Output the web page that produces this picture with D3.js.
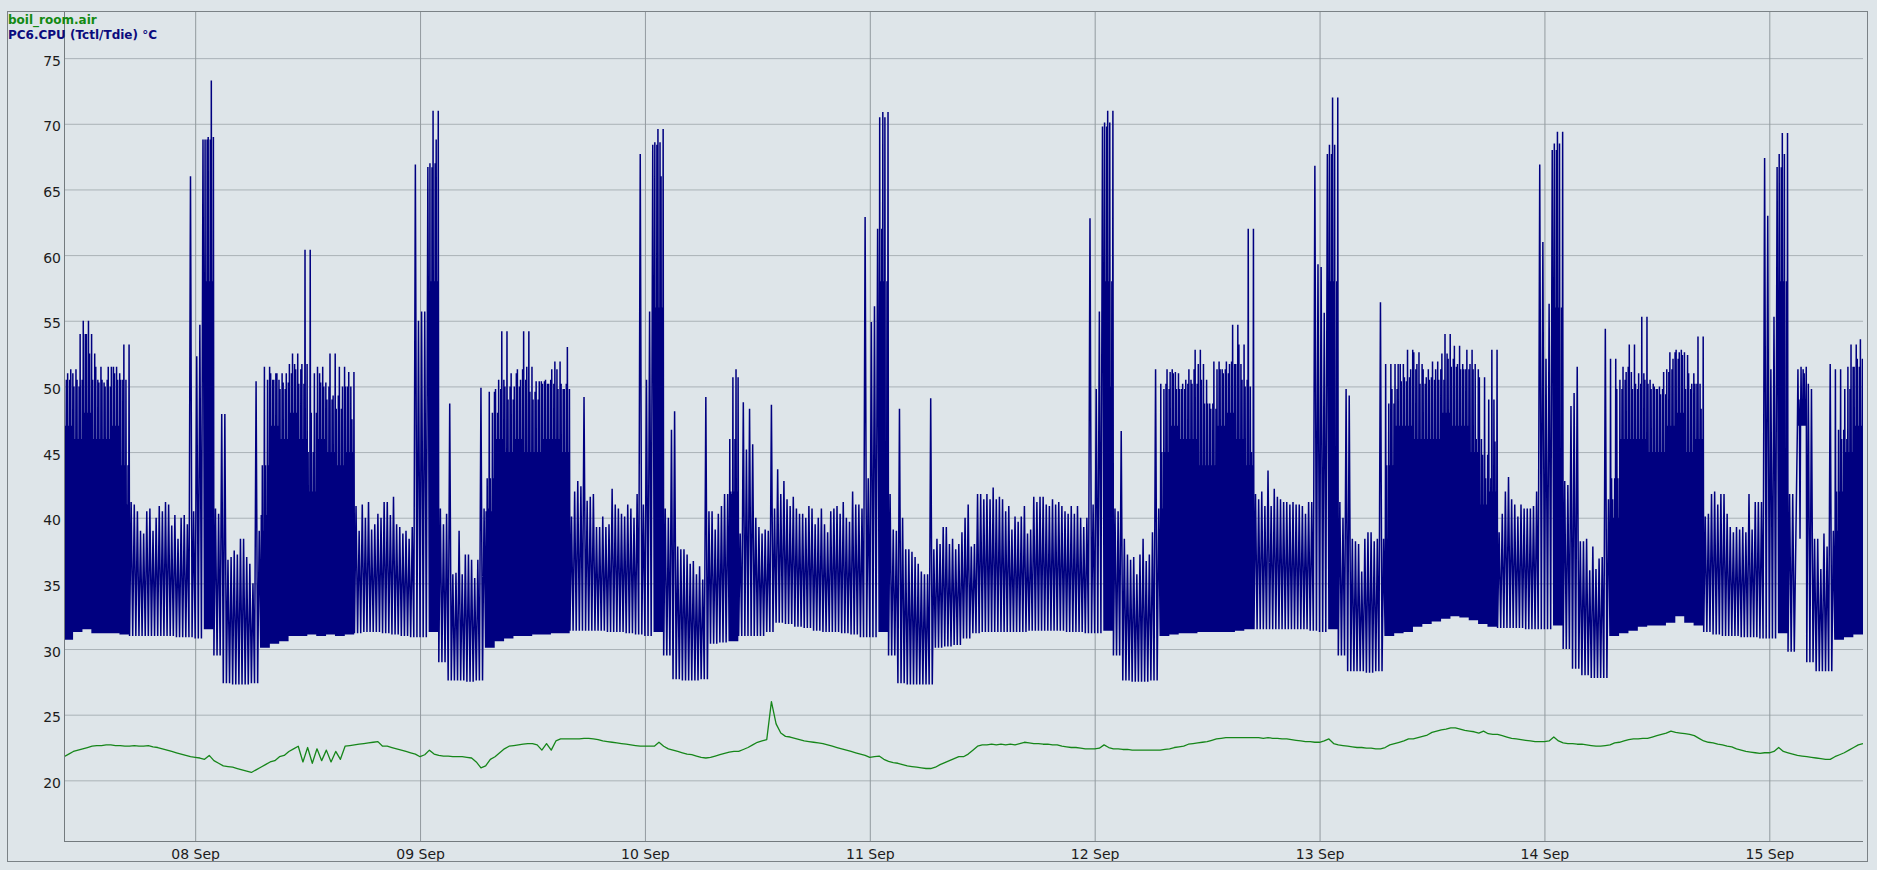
<!DOCTYPE html>
<html><head><meta charset="utf-8">
<script src="https://cdn.jsdelivr.net/npm/d3@7"></script>
<style>
html,body{margin:0;padding:0;background:#dee5e9;overflow:hidden;}
svg{display:block;font-family:"DejaVu Sans",Verdana,sans-serif;}
</style></head><body>
<svg id="chart" width="1877" height="870"></svg>
<script>
// ---- data ----
const _ = null;
const startTime = "2023-09-07 10:00";
const endTime = "2023-09-15 10:00";
const seriesNames = ["boil_room.air", "PC6.CPU (Tctl/Tdie) °C"];
const yTickValues = [20, 25, 30, 35, 40, 45, 50, 55, 60, 65, 70, 75];
const xTickLabels = ["08 Sep", "09 Sep", "10 Sep", "11 Sep", "12 Sep", "13 Sep", "14 Sep", "15 Sep"];

// CPU peak per 20-minute slot (72 per day, from 10:00)
const cpuHigh = [
50.5,51,51.3, 50,50.5,54, 55,54,52.5, 50.5,51.5,50.3, 50.5,50,51.5, 51.5,51,50.5, 50.5,53.2,41, 41.2,41,40.5, 39,38.8,40.5, 40.7,39,40, 40.9,40.5,41.2, 41,39.4,40.2, 38.4,40,40.2, 39.5,66,40.5, 52.3,54.7,68.8, 68.8,69,73.3, 40.7,40.3,47.9, 47.9,36.8,37, 37.5,37.2,38.4, 38.4,37,36.5, 35,50.4,39, 40.2,51.5,50.5, 51,50.5,51, 49.8,50.3,51,
51.7,52.5,51.3, 50.2,51.7,60.4, 45,48,51, 51.5,50.3,50, 49,52.5,49.3, 48.3,51.5,50, 50,51.1,47.5, 40.9,39,41, 40,41.2,39.1, 39.5,40.3,40, 41.2,41.2,40.2, 41.6,39.5,39.3, 38.8,39,38.4, 39.3,66.9,55, 55.7,55.7,66.7, 67,71,68.8, 40.7,39.5,40.3, 48.7,35.7,35.8, 39,35.7,37.2, 37.2,36.8,35.4, 36.8,49.9,40.7, 40.5,49.6,48, 49.8,50.5,54.2, 50,49,51,
50,51.3,50.5, 54.2,51.5,49.6, 49,50.4,50.4, 50.2,50.5,50.2, 51.3,51.9,49.8, 50.2,49.8,53, 40.1,42,42.8, 42.4,49.2,41.3, 41.6,41.8,39.3, 39.3,40.1,39.3, 39.5,42.2,41, 40.7,40.3,40.1, 41,40.7,40, 41.8,67.7,41, 50.5,55.7,68.4, 68.6,69.6,66, 40.7,40,46.7, 48.1,37.8,37.6, 37.6,37.2,36.5, 36.7,35.7,36.3, 35.3,49.2,40.5, 40.5,39.1,40.3, 40.9,41.8,41.8, 46,50.7,51.3,
38.8,48.8,45.2, 48.3,45.6,40, 39.3,38.8,39.1, 39,48.6,40.7, 43.7,41.8,42.8, 41.4,40.9,41.6, 40.7,40.3,40.3, 40,40.9,40.7, 39.5,40,40.7, 39.5,38.9,40.5, 40.7,40.9,40.3, 41.2,40,39.7, 42,41,41, 40.7,62.9,43, 54.9,56.1,62, 70.5,70.9,45, 41.8,39.1,39, 48.3,40,37.6, 37.6,37.4,37, 36.5,35.9,35.7, 35.7,49.1,37.6, 38.4,38,39.3, 39.3,38,38.4, 37.6,38,38.9,
40,41,37.8, 38,41.8,41.8, 41.4,41.8,41.4, 42.3,41.4,41.6, 41.4,40.5,40.9, 39.1,40.1,39.7, 40.1,40.9,38.8, 39.1,41.6,41.2, 41.6,41.6,41, 40.9,41.4,41, 41.2,40.9,40.5, 40.3,40.9,40.3, 40.9,40,39.3, 40,62.8,41, 49.8,55.7,69.8, 70.1,71,50, 40.7,40.5,46.6, 38.4,37.2,36.8, 37,35.7,37.2, 38.4,36.7,37.2, 38.9,51.3,40.7, 50.2,49.8,51.3, 51.1,51,49.8, 49.8,50.2,50.5,
51.3,50.2,52.8, 51.7,50.5,48.7, 48.7,48.3,51.9, 51.3,51.3,51, 51.9,51.7,54.7, 51.7,53.2,50.5, 50,62,45, 41.8,41.4,42, 40.9,43.6,40.9, 42.2,41.6,41.4, 41.2,41.2,41, 41.2,41,41, 40.9,40.3,41.2, 41.2,66.8,59.3, 59.1,55.6,67.7, 68.4,72,43, 41.2,40,49.8, 49.3,38.4,38.2, 38,35.9,38.4, 38.9,38.9,38.2, 38.4,56.4,38.4, 51.7,48.7,49.8, 51.7,51.7,50.4, 50.7,52.8,51.3,
52.6,51.7,50.2, 51.3,50.7,50.5, 51.9,51.3,50.5, 52.5,54,52.1, 51.5,53.1,51.7, 51.3,51.3,52.8, 51.7,51.3,46, 50.7,44.8,43, 49,52.8,45.8, 38.9,40.3,42, 43.1,41.4,41, 40.1,41,40.7, 40.7,40.7,40.9, 42,66.9,61, 52.1,56.3,68, 68.5,69.4,44, 42.8,42.5,48.5, 49.5,51.5,38.2, 38.2,38.4,36, 37.8,36.1,36.9, 37,54.4,41.4, 52.1,40,49.8, 50.5,51.5,51.1, 53.2,49.8,50.2,
51,55.3,50.5, 50.2,49.8,50, 49.8,49.4,51.1, 51.3,52.6,52.1, 52.8,52.6,52.4, 49.8,51,50.2, 50.2,53.8,48.3, 40.1,40.3,41.8, 42,41,41.8, 41.8,40.3,39.3, 38.9,39.3,39.1, 39.3,38.9,41.8, 39.1,41.2,41.2, 41.2,67.4,63, 51.3,55.3,66.7, 67.7,69.3,41.8, 41.8,41.8,38.4, 51.3,51.5,51, 50.2,49.8,38.4, 38.4,36.1,38.8, 37.8,51.7,39, 51.3,46.7,46, 49.8,51.5,53.2, 51.5,52.1,53.6
];

// CPU base (minimum) per hour (24 per day, from 10:00)
const cpuLow = [
30.7,31.3,31.5,31.2,31.2,31.2,31.1,31,31,31,31,31,30.9,30.9,30.8,31.5,29.5,27.4,27.3,27.3,27.4,30.1,30.4,30.6,
31,31,31.1,31,31.1,31,31.1,31.2,31.3,31.3,31.2,31.1,31,30.9,30.9,31.3,29,27.6,27.6,27.5,27.6,30.1,30.6,30.8,
31,31,31.1,31.1,31.2,31.2,31.4,31.4,31.4,31.4,31.3,31.3,31.2,31.1,31,31.3,29.5,27.7,27.6,27.6,27.7,30.4,30.5,30.6,
31,31,31,31.3,32,31.9,31.7,31.6,31.4,31.3,31.3,31.2,31.1,30.9,30.9,31.3,29.5,27.4,27.3,27.3,27.3,30.1,30.2,30.3,
30.8,31.2,31.3,31.3,31.3,31.3,31.3,31.4,31.4,31.4,31.4,31.3,31.3,31.2,31.2,31.4,29.5,27.6,27.5,27.5,27.6,31,31.1,31.2,
31.2,31.3,31.3,31.3,31.3,31.4,31.5,31.5,31.5,31.5,31.5,31.5,31.5,31.4,31.3,31.5,29.5,28.3,28.3,28.2,28.3,31,31.2,31.3,
31.7,31.9,32.1,32.3,32.5,32.4,32.2,31.9,31.7,31.6,31.6,31.6,31.5,31.5,31.5,31.8,30,28.5,28,27.8,27.8,31,31.2,31.4,
31.7,31.8,31.8,32,32.5,32,31.8,31.3,31.1,31,31,30.9,30.9,30.8,30.8,31.2,29.8,47,29,28.3,28.3,30.7,30.9,31.1
];

// CPU level of the solid body per hour in busy periods; null = quiet hour
const cpuBusy = [
47,46,48,46,46,47,44,_,_,_,_,_,_,_,_,58,_,_,_,_,_,44,47,46,
48,46,42,46,45,44,45,_,_,_,_,_,_,_,_,58,_,_,_,_,_,43,46,45,
46,45,45,46,46,45,_,_,_,_,_,_,_,_,_,56,_,_,_,_,_,_,_,42,
_,_,_,_,_,_,_,_,_,_,_,_,_,_,_,58,_,_,_,_,_,_,_,_,
_,_,_,_,_,_,_,_,_,_,_,_,_,_,_,58,_,_,_,_,_,45,47,46,
46,44,44,47,48,46,44,_,_,_,_,_,_,_,_,58,_,_,_,_,_,44,47,47,
46,46,46,48,47,47,45,41,42,_,_,_,_,_,_,56,_,_,_,_,_,43,46,46,
46,45,45,47,48,45,46,_,_,_,_,_,_,_,_,58,_,49,_,_,_,42,45,47
];

// boiler room air temperature per 30 minutes (48 per day, from 10:00) + final value
const airTemp = [
21.8,22.0,22.2,22.3,22.4,22.5,22.6,22.65,22.65,22.7,22.7,22.65,22.65,22.6,22.6,22.65,22.6,22.6,22.65,22.55,22.5,22.4,22.3,22.2,22.1,22.0,21.9,21.8,21.75,21.7,21.6,21.9,21.5,21.3,21.1,21.05,21.0,20.9,20.8,20.7,20.6,20.8,21.0,21.2,21.4,21.5,21.8,21.9,
22.2,22.4,22.6,21.4,22.5,21.3,22.4,21.5,22.3,21.4,22.2,21.6,22.6,22.65,22.7,22.75,22.8,22.85,22.9,22.95,22.6,22.6,22.5,22.4,22.3,22.2,22.1,22.0,21.8,21.95,22.3,22.0,21.9,21.85,21.85,21.8,21.8,21.8,21.75,21.7,21.4,20.95,21.1,21.6,21.8,22.1,22.4,22.6,
22.65,22.7,22.75,22.8,22.8,22.7,22.3,22.8,22.3,23.0,23.15,23.15,23.15,23.15,23.15,23.2,23.2,23.15,23.1,23.0,22.95,22.9,22.85,22.8,22.75,22.7,22.65,22.6,22.6,22.6,22.6,22.9,22.6,22.4,22.3,22.2,22.1,22.0,21.95,21.85,21.75,21.7,21.75,21.85,21.95,22.05,22.15,22.2,
22.2,22.35,22.5,22.7,22.9,23.0,23.1,26.0,24.3,23.6,23.35,23.3,23.2,23.1,23.0,22.95,22.9,22.85,22.8,22.7,22.6,22.5,22.4,22.3,22.2,22.1,22.0,21.9,21.75,21.8,21.85,21.6,21.45,21.35,21.3,21.2,21.1,21.05,21.0,20.95,20.9,20.9,21.0,21.2,21.35,21.5,21.65,21.8,
21.8,22.0,22.3,22.6,22.7,22.7,22.75,22.7,22.75,22.7,22.75,22.7,22.8,22.9,22.85,22.8,22.8,22.75,22.75,22.7,22.7,22.6,22.55,22.5,22.5,22.45,22.4,22.4,22.4,22.45,22.7,22.5,22.4,22.4,22.35,22.35,22.3,22.3,22.3,22.3,22.3,22.3,22.3,22.35,22.4,22.5,22.55,22.6,
22.75,22.8,22.85,22.9,22.95,23.05,23.15,23.2,23.25,23.25,23.25,23.25,23.25,23.25,23.25,23.25,23.2,23.25,23.2,23.2,23.15,23.15,23.1,23.05,23.0,22.95,22.95,22.9,22.9,23.0,23.15,22.8,22.7,22.65,22.6,22.55,22.5,22.5,22.45,22.45,22.4,22.4,22.5,22.7,22.8,22.9,23.0,23.15,
23.15,23.25,23.35,23.45,23.65,23.75,23.85,23.9,24.0,24.0,23.9,23.8,23.75,23.7,23.6,23.75,23.55,23.5,23.5,23.4,23.3,23.2,23.15,23.1,23.05,23.0,22.95,22.95,22.95,23.0,23.3,23.0,22.85,22.8,22.8,22.75,22.75,22.7,22.65,22.6,22.6,22.65,22.7,22.85,22.9,23.0,23.1,23.15,
23.15,23.2,23.2,23.3,23.4,23.5,23.6,23.75,23.65,23.6,23.55,23.5,23.4,23.2,23.0,22.9,22.85,22.75,22.7,22.6,22.55,22.4,22.3,22.2,22.15,22.1,22.05,22.1,22.1,22.2,22.5,22.2,22.1,22.0,21.9,21.85,21.8,21.75,21.7,21.65,21.6,21.6,21.8,21.95,22.1,22.3,22.5,22.7,
22.8
];

// ---- drawing ----
const parse = d3.timeParse("%Y-%m-%d %H:%M");
const t0 = parse(startTime), t1 = parse(endTime);
const L = 64, R = 1863, T = 11, B = 841;

const x = d3.scaleTime().domain([t0, t1]).range([L, R]);
const y = d3.scaleLinear().domain([15.38, 78.59]).range([B, T]);

const svg = d3.select("#chart");
svg.append("rect").attr("width", 1877).attr("height", 870).attr("fill", "#dee5e9");

svg.append("defs").append("clipPath").attr("id", "plot")
  .append("rect").attr("x", L).attr("y", T).attr("width", R - L).attr("height", B - T);

// horizontal grid + y labels
const yAxis = d3.axisLeft(y).tickValues(yTickValues).tickSize(-(R - L)).tickPadding(3).tickFormat(d3.format("d"));
const gy = svg.append("g").attr("transform", `translate(${L},0)`).call(yAxis);
gy.select(".domain").remove();
gy.selectAll("line").attr("stroke", "#aab2b7").attr("stroke-width", 1);
gy.selectAll("text").attr("font-size", 14).attr("fill", "#1c1c1c").attr("dy", "0.5em").attr("font-family", "DejaVu Sans");

// vertical grid + x labels
const dayTicks = d3.timeDay.range(d3.timeDay.ceil(t0), t1);
const xAxis = d3.axisBottom(x).tickValues(dayTicks).tickSize(-(B - T)).tickPadding(8)
  .tickFormat((d, i) => xTickLabels[i]);
const gx = svg.append("g").attr("transform", `translate(0,${B})`).call(xAxis);
gx.select(".domain").remove();
gx.selectAll("line").attr("stroke", "#929a9f").attr("stroke-width", 1);
gx.selectAll("text").attr("font-size", 14).attr("fill", "#1c1c1c").attr("font-family", "DejaVu Sans");

// series
const plot = svg.append("g").attr("clip-path", "url(#plot)");
const line = d3.line().x(d => x(d[0])).y(d => y(d[1]));

const airPts = airTemp.map((v, k) => [d3.timeMinute.offset(t0, k * 30), v]);
plot.append("path").attr("d", line(airPts)).attr("fill", "none")
  .attr("stroke", "#16861a").attr("stroke-width", 1.3).attr("stroke-linejoin", "round");

const cpuPts = [];
const at = (ts, sec) => d3.timeSecond.offset(ts, sec);
cpuHigh.forEach((h, j) => {
  const ts = d3.timeMinute.offset(t0, j * 20);
  const hr = Math.floor(j / 3);
  const lo = cpuLow[hr], busy = cpuBusy[hr];
  if (busy == null) {
    cpuPts.push([ts, lo], [at(ts, 600), h]);
  } else {
    // busy hours: the slot's peak, the body level and the previous slot's peak
    const prev = j > 0 ? cpuHigh[j - 1] : h;
    cpuPts.push([ts, lo], [at(ts, 200), h], [at(ts, 400), lo],
                [at(ts, 600), busy], [at(ts, 800), lo], [at(ts, 1000), prev]);
  }
});
cpuPts.push([t1, cpuLow[cpuLow.length - 1]]);
plot.append("path").attr("d", line(cpuPts)).attr("fill", "none")
  .attr("stroke", "#000080").attr("stroke-width", 1.5).attr("stroke-linejoin", "miter");

// axis lines and frame
svg.append("line").attr("x1", L + 0.5).attr("x2", L + 0.5).attr("y1", T).attr("y2", B).attr("stroke", "#737a7e");
svg.append("line").attr("x1", L).attr("x2", R).attr("y1", B + 0.5).attr("y2", B + 0.5).attr("stroke", "#737a7e");
svg.append("rect").attr("x", 7.5).attr("y", 11.5).attr("width", 1860).attr("height", 850)
  .attr("fill", "none").attr("stroke", "#7b8286");

// legend
const legendColors = ["#138a13", "#0b0b7d"];
svg.selectAll("text.legend").data(seriesNames).join("text").attr("class", "legend")
  .attr("x", 8).attr("y", (d, i) => 24 + i * 15).attr("font-size", 12).attr("font-weight", "bold")
  .attr("font-family", "DejaVu Sans").attr("fill", (d, i) => legendColors[i]).text(d => d);
</script>
</body></html>
